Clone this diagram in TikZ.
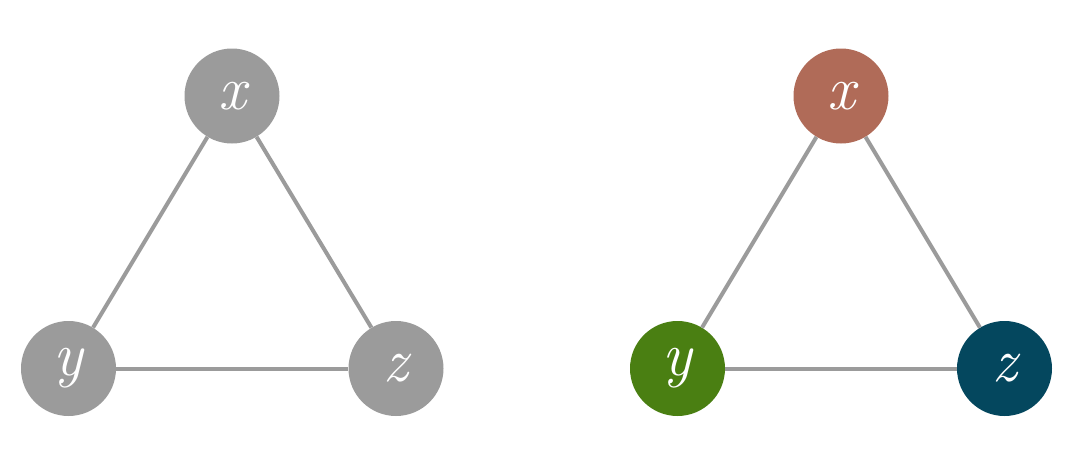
\documentclass[tikz,border=0pt]{standalone}
\usepackage{fontspec}
\usepackage{tikz}
\definecolor{vgray}{HTML}{9B9B9B}
\definecolor{vred}{HTML}{B06B58}
\definecolor{vgreen}{HTML}{4A7F12}
\definecolor{vblue}{HTML}{04475E}
\tikzset{
  vert/.style={circle, minimum size=95pt, inner sep=0pt, text=white, font=\fontsize{62}{62}\selectfont\itshape},
  edge/.style={draw=vgray, line width=4pt}
}
\begin{document}
\begin{tikzpicture}[x=1pt,y=-1pt]
\useasboundingbox (0,0) rectangle (1080,463);
% left
\node[vert, fill=vgray] (x1) at (232,96) {x};
\node[vert, fill=vgray] (y1) at (68.5,368.5) {y};
\node[vert, fill=vgray] (z1) at (396,368.5) {z};
% right
\node[vert, fill=vred] (x2) at (841,96) {x};
\node[vert, fill=vgreen] (y2) at (677.5,368.5) {y};
\node[vert, fill=vblue] (z2) at (1004.5,368.5) {z};
\draw[edge] (x1) -- (y1);
\draw[edge] (x1) -- (z1);
\draw[edge] (y1) -- (z1);
\draw[edge] (x2) -- (y2);
\draw[edge] (x2) -- (z2);
\draw[edge] (y2) -- (z2);
\end{tikzpicture}
\end{document}
